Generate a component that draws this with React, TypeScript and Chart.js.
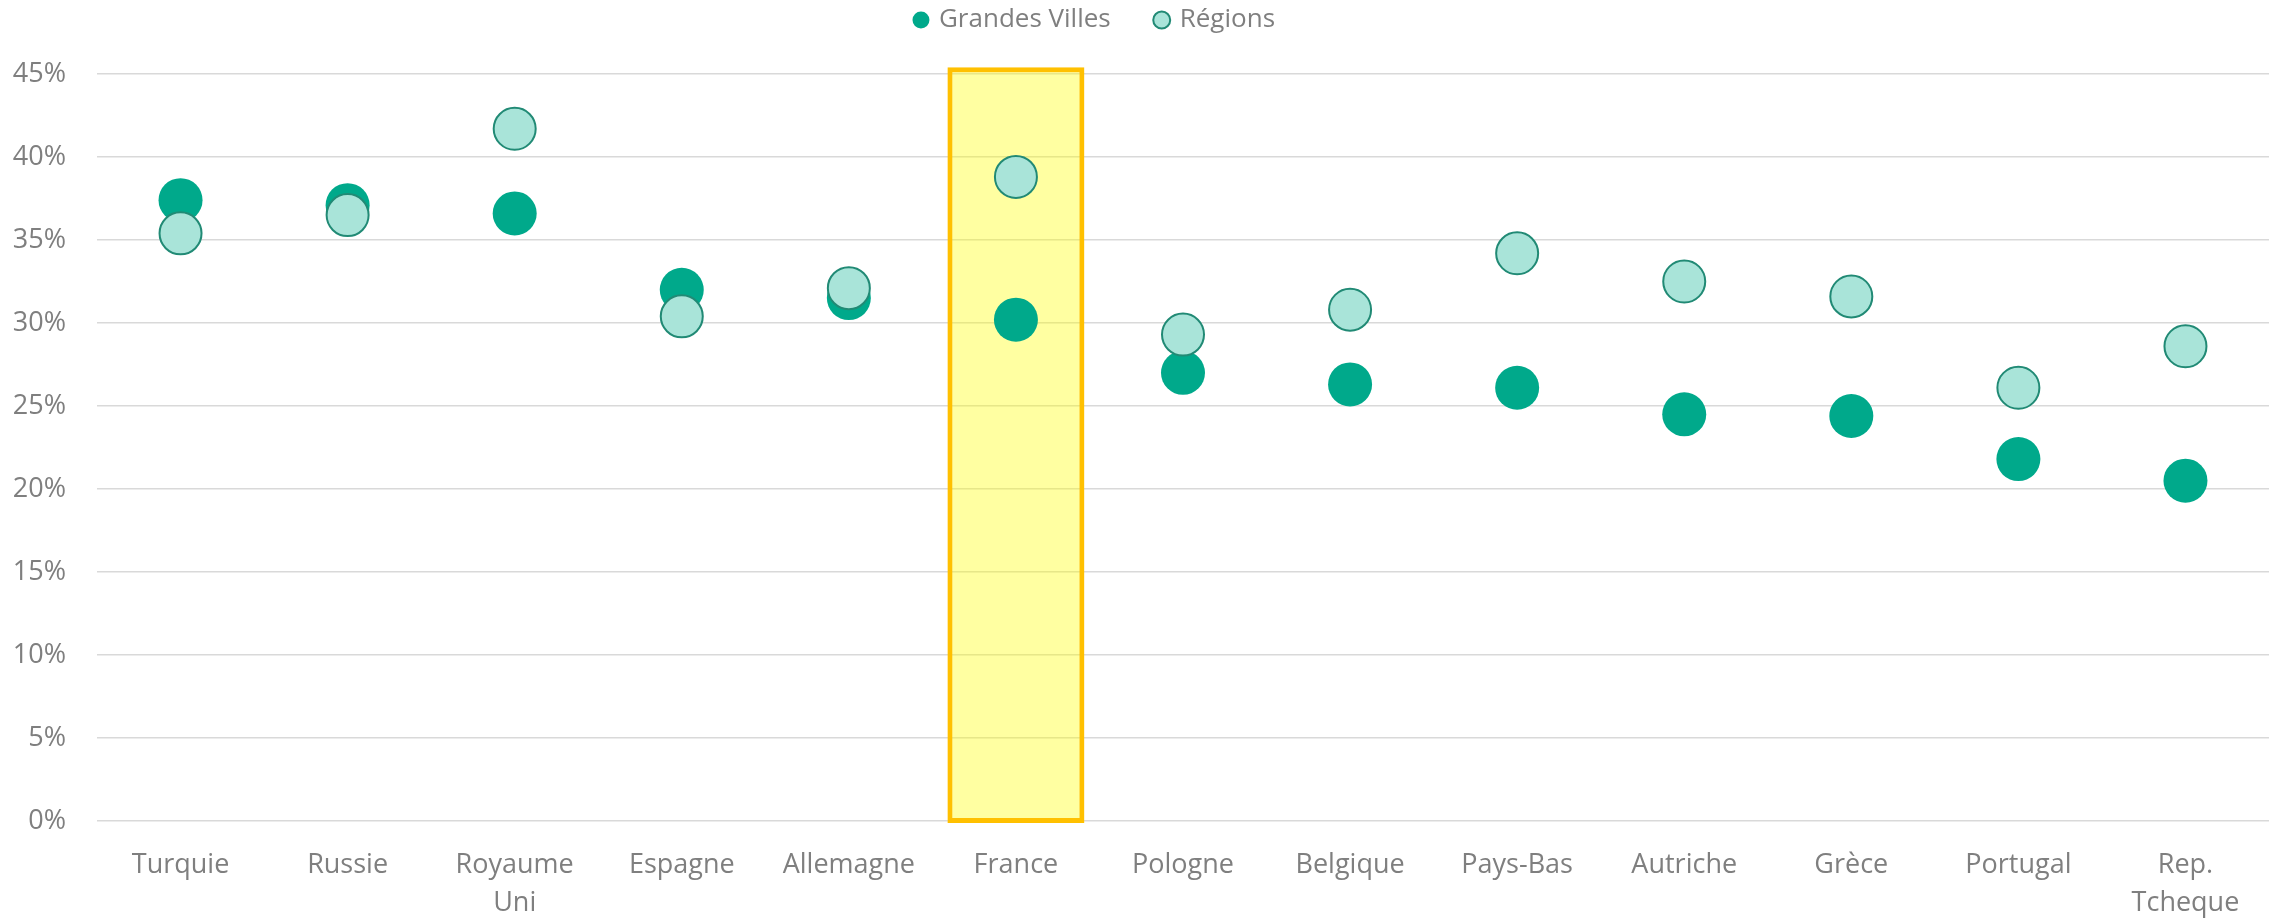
import React, { useEffect, useRef } from "react";
import { Chart, registerables } from "chart.js";

Chart.register(...registerables);

const categories: (string | string[])[] = [
  "Turquie", "Russie", ["Royaume", "Uni"], "Espagne", "Allemagne", "France",
  "Pologne", "Belgique", "Pays-Bas", "Autriche", "Grèce", "Portugal", ["Rep.", "Tcheque"],
];
const grandesVilles = [37.4, 37.1, 36.6, 32.0, 31.5, 30.2, 27.0, 26.3, 26.1, 24.5, 24.4, 21.8, 20.5];
const regions = [35.4, 36.5, 41.7, 30.4, 32.1, 38.8, 29.3, 30.8, 34.2, 32.5, 31.6, 26.1, 28.6];
const highlightIndex = 5;
const highlightRange: [number, number] = [-0.12, 45.4];
const yTicks = [0, 5, 10, 15, 20, 25, 30, 35, 40, 45];
const legendNames = ["Grandes Villes", "Régions"];

const FONT = "'Open Sans', 'Noto Sans', sans-serif";
const TEXT = "#7F7F7F";

export default function App() {
  const ref = useRef<HTMLCanvasElement | null>(null);
  useEffect(() => {
    if (!ref.current) return;
    const highlight = categories.map((_, i) => (i === highlightIndex ? highlightRange : null));
    const defaultGen = (Chart.defaults.plugins.legend.labels as any).generateLabels;
    const chart = new Chart(ref.current, {
      type: "line",
      data: {
        labels: categories as any,
        datasets: [
          {
            label: legendNames[0],
            data: grandesVilles,
            showLine: false,
            backgroundColor: "#00A98B",
            borderColor: "#00A98B",
            pointBackgroundColor: "#00A98B",
            pointBorderColor: "#00A98B",
            pointBorderWidth: 0,
            borderWidth: 0,
            pointRadius: 22,
            pointHoverRadius: 22,
            order: 2,
          } as any,
          {
            label: legendNames[1],
            data: regions,
            showLine: false,
            backgroundColor: "#A9E4D9",
            borderColor: "#218A75",
            pointBackgroundColor: "#A9E4D9",
            pointBorderColor: "#218A75",
            pointBorderWidth: 2,
            borderWidth: 2,
            pointRadius: 21,
            pointHoverRadius: 21,
            order: 1,
          } as any,
          {
            type: "bar",
            label: "highlight",
            data: highlight as any,
            backgroundColor: "rgba(255,255,0,0.37)",
            borderColor: "#FFC000",
            borderWidth: 5,
            borderSkipped: false,
            categoryPercentage: 1,
            barPercentage: 0.82,
            clip: false,
            order: 3,
          } as any,
        ],
      },
      options: {
        animation: false,
        responsive: true,
        maintainAspectRatio: false,
        events: [],
        layout: { autoPadding: false, padding: { left: 13, right: 11, top: 0, bottom: 0 } },
        plugins: {
          tooltip: { enabled: false },
          legend: {
            position: "top",
            labels: {
              usePointStyle: true,
              pointStyle: "circle",
              boxWidth: 10,
              boxHeight: 12,
              padding: 7,
              color: TEXT,
              font: { family: FONT, size: 26 },
              generateLabels: (c: any) => {
                const items = defaultGen(c)
                  .filter((it: any) => it.datasetIndex !== 2)
                  .sort((a: any, b: any) => a.datasetIndex - b.datasetIndex);
                items.forEach((it: any) => {
                  if (it.datasetIndex === 0) it.text = it.text + "\u2002\u2002\u2002";
                  if (it.datasetIndex === 1) it.text = it.text + "\u2002\u2002\u2002\u2002\u2002\u2002\u2002";
                });
                return items;
              },
            },
          },
        },
        scales: {
          x: {
            type: "category",
            offset: true,
            grid: { display: false, drawTicks: false },
            border: { display: false },
            afterFit: (axis: any) => {
              axis.height = 98;
              axis.paddingLeft = 0;
              axis.paddingRight = 0;
            },
            ticks: {
              color: TEXT,
              font: { family: FONT, size: 27, lineHeight: 1.38 },
              padding: 26,
              maxRotation: 0,
              autoSkip: false,
            },
          },
          y: {
            min: 0,
            max: 45,
            grid: { color: "#D9D9D9", lineWidth: 1.5, drawTicks: false },
            border: { display: false },
            afterBuildTicks: (axis: any) => {
              axis.ticks = yTicks.map((v) => ({ value: v }));
            },
            afterFit: (axis: any) => {
              axis.width = 84;
            },
            ticks: {
              color: TEXT,
              font: { family: FONT, size: 27 },
              padding: 31,
              callback: (v: any) => `${v}%`,
            },
          },
        },
      },
      plugins: [
        {
          id: "legendMargin",
          beforeInit(c: any) {
            if (!c.legend) return;
            const fit = c.legend.fit;
            c.legend.fit = function () {
              fit.bind(c.legend)();
              this.height += 31;
            };
          },
        },
      ],
    });
    return () => chart.destroy();
  }, []);
  return (
    <div style={{ position: "fixed", left: 0, top: 0, width: "100vw", height: "100vh", background: "#fff" }}>
      <canvas ref={ref} />
    </div>
  );
}
